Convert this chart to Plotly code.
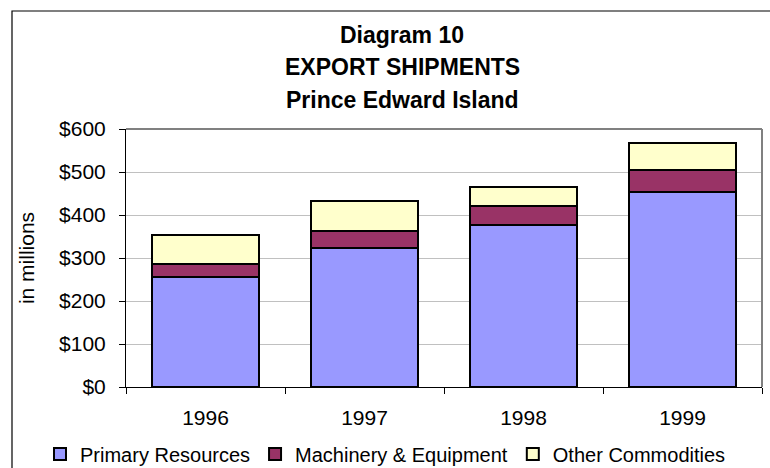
import plotly.graph_objects as go

# ---------------------------------------------------------------------------
# データ
# ---------------------------------------------------------------------------
years = ["1996", "1997", "1998", "1999"]
primary = [255, 324, 376, 454]
machinery = [32, 38, 46, 51]
other = [66, 70, 43, 62]

series_names = ["Primary Resources", "Machinery & Equipment", "Other Commodities"]
series_colors = ["#9999FF", "#993366", "#FFFFCC"]

title_lines = ["Diagram 10", "EXPORT SHIPMENTS", "Prince Edward Island"]
y_ticks = [0, 100, 200, 300, 400, 500, 600]
y_ticktext = ["$" + str(v) for v in y_ticks]

FONT = "Liberation Sans, Arial, sans-serif"
W, H = 770, 468
L, R, T, B = 126, 8, 129, 81
PW, PH = W - L - R, H - T - B


def px_x(x):
    return (x - L) / PW


def px_y(y):
    return (H - B - y) / PH


fig = go.Figure()
for name, vals, col in zip(series_names, [primary, machinery, other], series_colors):
    fig.add_trace(go.Bar(
        x=years, y=vals, name=name,
        marker=dict(color=col, line=dict(color="black", width=2)),
    ))

# タイトル (3 行)
for line, ypx in zip(title_lines, [35, 67, 100]):
    fig.add_annotation(
        text="<b>" + line + "</b>", xref="paper", yref="paper",
        x=px_x(402), y=px_y(ypx),
        showarrow=False, xanchor="center", yanchor="middle",
        font=dict(size=23, color="black", family=FONT),
    )

# 外枠
fig.add_shape(
    type="rect", xref="paper", yref="paper",
    x0=px_x(12), x1=px_x(800), y0=px_y(490), y1=px_y(11),
    line=dict(color="black", width=1.2), layer="below",
)

fig.update_layout(
    width=W, height=H,
    margin=dict(l=L, r=R, t=T, b=B, autoexpand=False),
    barmode="stack", bargap=0.333,
    paper_bgcolor="white", plot_bgcolor="white",
    font=dict(family=FONT, size=21, color="black"),
    showlegend=True,
    legend=dict(
        orientation="h", xref="paper", yref="paper",
        xanchor="left", yanchor="middle",
        x=px_x(40), y=px_y(454),
        font=dict(size=20), itemwidth=30, tracegroupgap=0,
        traceorder="normal", bgcolor="rgba(0,0,0,0)",
    ),
    xaxis=dict(
        type="category", showgrid=False, tickson="boundaries",
        ticks="outside", ticklen=6, tickcolor="black",
        showline=True, linecolor="black", linewidth=1,
        tickfont=dict(size=21), ticklabelstandoff=12,
    ),
    yaxis=dict(
        range=[0, 600], tickvals=y_ticks, ticktext=y_ticktext,
        ticks="outside", ticklen=6, tickcolor="black",
        showline=True, linecolor="black", linewidth=1,
        showgrid=True, gridcolor="#C0C0C0", gridwidth=1,
        title=dict(text="in millions", font=dict(size=21), standoff=18),
        tickfont=dict(size=21), ticklabelstandoff=9, zeroline=False,
    ),
)

# プロットエリアの上・右枠 (灰色)
fig.add_shape(type="line", xref="paper", yref="paper", x0=0, x1=1, y0=1, y1=1,
              line=dict(color="#808080", width=2))
fig.add_shape(type="line", xref="paper", yref="paper", x0=1, x1=1, y0=0, y1=1,
              line=dict(color="#808080", width=2))

# ページ既定の余白 (8px) を消し、モードバーを隠す
fig.write_html(
    "out.html",
    config={"displayModeBar": False},
    post_script="document.body.style.margin='0';",
)
